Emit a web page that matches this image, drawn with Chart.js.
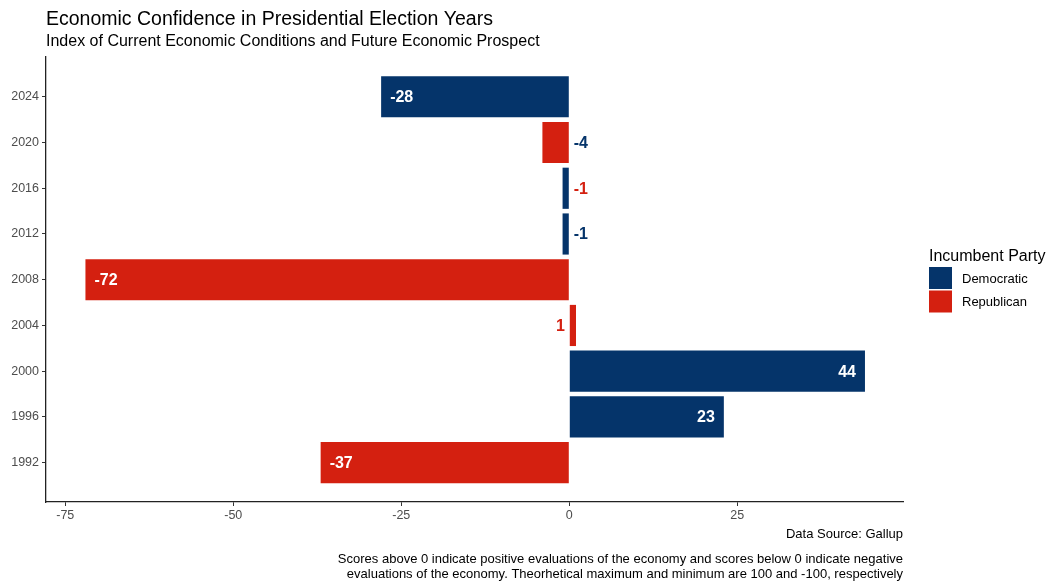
<!DOCTYPE html>
<html>
<head>
<meta charset="utf-8">
<script src="https://cdn.jsdelivr.net/npm/chart.js@4.4.0/dist/chart.umd.min.js"></script>
<style>
  html, body { margin: 0; padding: 0; background: #fff; }
  #wrap { position: relative; width: 1049px; height: 582px; }
</style>
</head>
<body>
<div id="wrap"><canvas id="chart" width="1049" height="582"></canvas></div>
<script>
// Gallup economic confidence index, election years (bottom to top)
const years = ['1992', '1996', '2000', '2004', '2008', '2012', '2016', '2020', '2024'];
const scores = [-37, 23, 44, 1, -72, -1, -1, -4, -28];
const incumbent = ['Republican', 'Democratic', 'Democratic', 'Republican', 'Republican', 'Democratic', 'Democratic', 'Republican', 'Democratic'];
// colour used by the small outside labels (as in the original figure)
const labelParty = ['Republican', 'Democratic', 'Democratic', 'Republican', 'Republican', 'Democratic', 'Republican', 'Democratic', 'Democratic'];
const xTicks = [-75, -50, -25, 0, 25];
const parties = ['Democratic', 'Republican'];

const partyColors = { Democratic: '#05346a', Republican: '#d42010' };
const FONT = '"Liberation Sans", Arial, sans-serif';

// labels on the bars: inside (white) for long bars, outside for short ones
const barLabels = {
    id: 'barLabels',
    afterDatasetsDraw(chart) {
        const ctx = chart.ctx;
        const meta = chart.getDatasetMeta(0);
        ctx.save();
        ctx.font = 'bold 16px ' + FONT;
        ctx.textBaseline = 'middle';
        meta.data.forEach((bar, i) => {
            const v = scores[i];
            const txt = String(v);
            if (Math.abs(v) >= 10) {
                ctx.fillStyle = '#ffffff';
                if (v < 0) {
                    ctx.textAlign = 'left';
                    ctx.fillText(txt, bar.x + 9, bar.y + 1);
                } else {
                    ctx.textAlign = 'right';
                    ctx.fillText(txt, bar.x - 9, bar.y + 1);
                }
            } else {
                ctx.fillStyle = partyColors[labelParty[i]];
                if (v < 0) {
                    ctx.textAlign = 'left';
                    ctx.fillText(txt, bar.base + 5, bar.y + 1);
                } else {
                    ctx.textAlign = 'right';
                    ctx.fillText(txt, bar.base - 5, bar.y + 1);
                }
            }
        });
        ctx.restore();
    }
};

// titles, legend and caption
const decorations = {
    id: 'decorations',
    afterDraw(chart) {
        const ctx = chart.ctx;
        const area = chart.chartArea;
        ctx.save();
        ctx.fillStyle = '#000';
        ctx.textAlign = 'left';
        ctx.textBaseline = 'alphabetic';
        ctx.font = '19.5px ' + FONT;
        ctx.fillText('Economic Confidence in Presidential Election Years', 46, 25);
        ctx.font = '16px ' + FONT;
        ctx.fillText('Index of Current Economic Conditions and Future Economic Prospect', 46, 46);

        // legend
        ctx.font = '16px ' + FONT;
        ctx.fillText('Incumbent Party', 929, 261);
        ctx.font = '13px ' + FONT;
        parties.forEach((p, i) => {
            const top = 267 + i * 23.5;
            ctx.fillStyle = partyColors[p];
            ctx.fillRect(929, top, 23, 22);
            ctx.fillStyle = '#000';
            ctx.textBaseline = 'middle';
            ctx.fillText(p, 962, top + 12);
        });

        // caption
        ctx.textAlign = 'right';
        ctx.textBaseline = 'alphabetic';
        ctx.font = '13px ' + FONT;
        ctx.fillStyle = '#000';
        ctx.fillText('Data Source: Gallup', area.right, 538);
        ctx.fillText('Scores above 0 indicate positive evaluations of the economy and scores below 0 indicate negative', area.right, 563);
        ctx.fillText('evaluations of the economy. Theorhetical maximum and minimum are 100 and -100, respectively', area.right, 578);
        ctx.restore();
    }
};

new Chart(document.getElementById('chart'), {
    type: 'bar',
    data: {
        datasets: [{
            data: scores.map((v, i) => ({ x: v, y: i })),
            backgroundColor: incumbent.map(p => partyColors[p]),
            borderWidth: 0,
            barPercentage: 0.9,
            categoryPercentage: 1.0
        }]
    },
    options: {
        indexAxis: 'y',
        responsive: false,
        animation: false,
        layout: { padding: { top: 57, right: 146, bottom: 50, left: 0 } },
        plugins: {
            legend: { display: false },
            title: { display: false },
            tooltip: { enabled: false }
        },
        scales: {
            x: {
                type: 'linear',
                min: -77.87,
                max: 49.66,
                afterBuildTicks: axis => { axis.ticks = xTicks.map(v => ({ value: v })); },
                afterFit: axis => { axis.height = 30; },
                grid: { drawOnChartArea: false, tickLength: 4, color: '#333', lineWidth: 1 },
                border: { display: true, color: '#222', width: 1.3 },
                ticks: { color: '#4d4d4d', font: { family: FONT, size: 12.5 }, padding: 2, autoSkip: false, maxRotation: 0 }
            },
            y: {
                type: 'linear',
                min: -0.86,
                max: 8.87,
                offset: false,
                afterBuildTicks: axis => { axis.ticks = years.map((y, i) => ({ value: i })); },
                afterFit: axis => { axis.width = 46; },
                grid: { offset: false, drawOnChartArea: false, tickLength: 4, color: '#333', lineWidth: 1 },
                border: { display: true, color: '#222', width: 1.3 },
                ticks: {
                    color: '#4d4d4d',
                    font: { family: FONT, size: 12.5 },
                    padding: 3,
                    autoSkip: false,
                    callback: v => years[v]
                }
            }
        }
    },
    plugins: [barLabels, decorations]
});
</script>
</body>
</html>
